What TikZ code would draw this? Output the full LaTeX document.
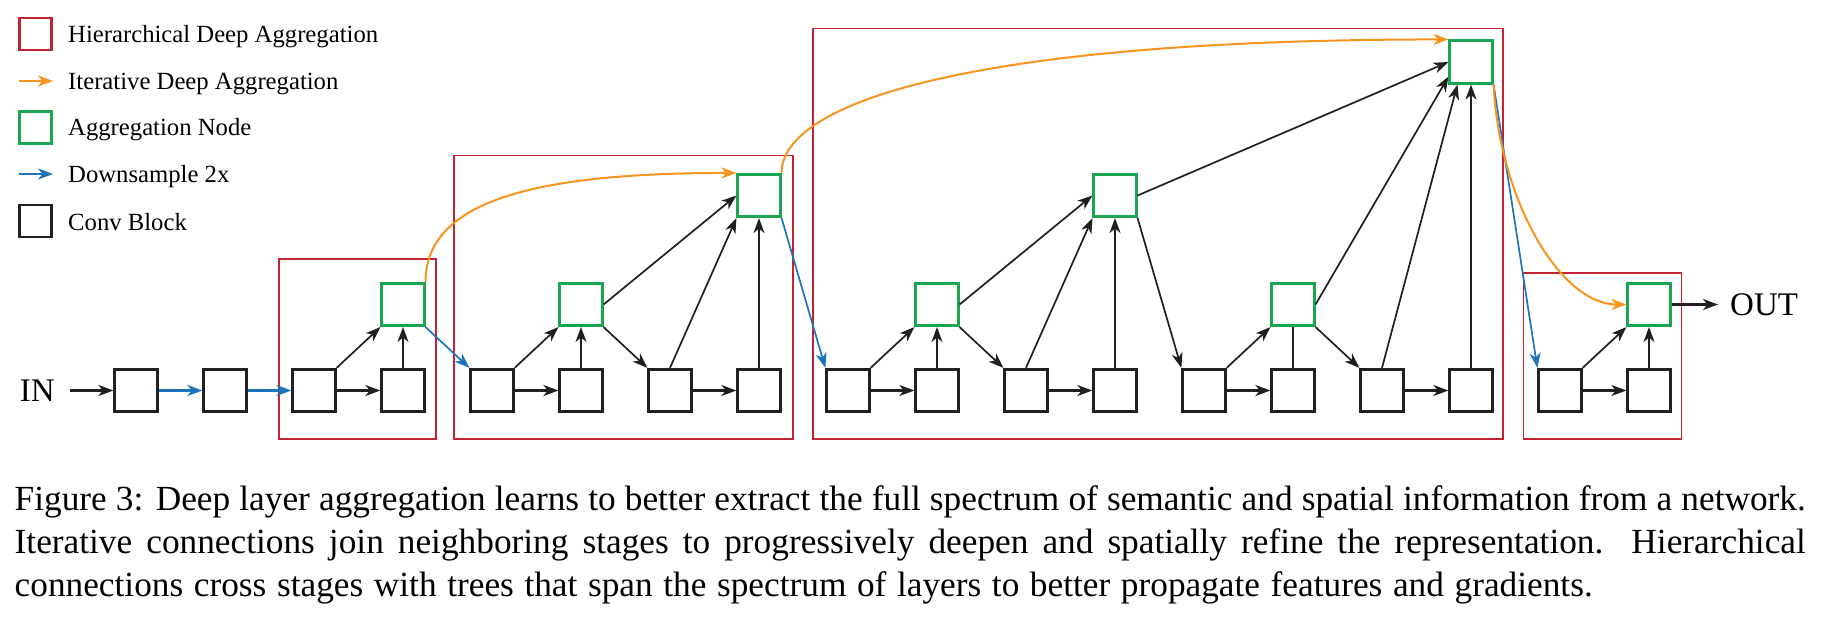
\documentclass[tikz,border=0pt]{standalone}
\usepackage{fontspec}
\setmainfont{Liberation Serif}
\usetikzlibrary{arrows.meta}
\definecolor{hred}{RGB}{196,34,48}
\definecolor{ggreen}{RGB}{26,166,80}
\definecolor{iorange}{RGB}{247,148,30}
\definecolor{dblue}{RGB}{28,117,188}
\definecolor{cblack}{RGB}{35,31,32}
\begin{document}
\begin{tikzpicture}[x=1pt,y=-1pt,
  tip/.tip={Stealth[length=15pt,width=11pt,inset=4.5pt]},
  conv/.style={draw=cblack,line width=2.8pt,minimum size=42.5pt,inner sep=0pt},
  agg/.style={draw=ggreen,line width=2.6pt,minimum size=42.5pt,inner sep=0pt},
  hda/.style={draw=hred,line width=1.6pt},
  conn/.style={draw=cblack,line width=1.7pt,-tip},
  rowarr/.style={draw=cblack,line width=2.2pt,-tip},
  plainline/.style={draw=cblack,line width=1.5pt},
  down/.style={draw=dblue,line width=1.7pt,-tip},
  downrow/.style={draw=dblue,line width=2.2pt,-tip},
  iter/.style={draw=iorange,line width=2pt,-tip},
  lab/.style={inner sep=0pt,font=\fontsize{33}{40}\selectfont},
  legtext/.style={anchor=base west,inner sep=0pt,font=\fontsize{24.7}{30}\selectfont},
  legsq/.style={minimum size=32pt,line width=2.4pt,inner sep=0pt},
  captext/.style={anchor=base west,inner sep=0pt,font=\fontsize{35.3}{43}\selectfont}
]
\useasboundingbox (0,0) rectangle (1824,634);

% legend
\node[legsq,draw=hred] (lr) at (35.5,34) {};
\node[legtext] (lt1) at (68,43) {Hierarchical Deep Aggregation};
\coordinate (lo1) at (19,81); \coordinate (lo2) at (53,81);
\draw[iter] (lo1) -- (lo2);
\node[legtext] (lt2) at (68,89.5) {Iterative Deep Aggregation};
\node[legsq,draw=ggreen] (lg) at (35.5,127.5) {};
\node[legtext] (lt3) at (68,135.5) {Aggregation Node};
\coordinate (lb1) at (19,174); \coordinate (lb2) at (53,174);
\draw[down] (lb1) -- (lb2);
\node[legtext] (lt4) at (68,182.5) {Downsample 2x};
\node[legsq,draw=cblack] (lk) at (35.5,221) {};
\node[legtext] (lt5) at (68,230) {Conv Block};

% HDA frames
\draw[hda] (279,259) rectangle (436,439);
\draw[hda] (454,155.5) rectangle (793,439);
\draw[hda] (813,28.5) rectangle (1503,439);
\draw[hda] (1523.5,273) rectangle (1681.5,439);

% conv blocks
\foreach \k in {1,...,18} {
  \node[conv] (b\k) at ({136+89*(\k-1)},390.5) {};
}
% aggregation nodes
\node[agg] (g1) at (403,304.5) {};
\node[agg] (g2) at (581,304.5) {};
\node[agg] (g3) at (759,195.5) {};
\node[agg] (g4) at (937,304.5) {};
\node[agg] (g5) at (1115,195.5) {};
\node[agg] (g6) at (1293,304.5) {};
\node[agg] (g7) at (1471,62) {};
\node[agg] (g8) at (1649,304.5) {};

\node[lab,anchor=east] (in) at (55,390.5) {IN};
\node[lab,anchor=west] (out) at (1730,304.5) {OUT};

% stage 0 / 1
\draw[rowarr,shorten <=15pt] (in) -- (b1);
\draw[downrow] (b1) -- (b2);
\draw[downrow] (b2) -- (b3);
\draw[rowarr] (b3) -- (b4);
\draw[conn] (b3.north east) -- (g1.south west);
\draw[conn] (b4) -- (g1);
\draw[down] (g1.south east) -- (b5.north west);
\draw[iter] (g1.north east) .. controls +(0,-83) and +(-196,0) .. (g3.north west);

% stage 2
\draw[rowarr] (b5) -- (b6);
\draw[conn] (b5.north east) -- (g2.south west);
\draw[conn] (b6) -- (g2);
\draw[conn] (g2.south east) -- (b7.north west);
\draw[rowarr] (b7) -- (b8);
\draw[conn] (g2.east) -- (g3.west);
\draw[conn] (b7.north) -- (g3.south west);
\draw[conn] (b8) -- (g3);
\draw[down] (g3.south east) -- (b9.north west);
\draw[iter] (g3.north east) .. controls +(0,-70) and +(-479,0) .. (g7.north west);

% stage 3
\draw[rowarr] (b9) -- (b10);
\draw[conn] (b9.north east) -- (g4.south west);
\draw[conn] (b10) -- (g4);
\draw[conn] (g4.south east) -- (b11.north west);
\draw[rowarr] (b11) -- (b12);
\draw[conn] (g4.east) -- (g5.west);
\draw[conn] (b11.north) -- (g5.south west);
\draw[conn] (b12) -- (g5);
\draw[conn] (g5.south east) -- (b13.north west);
\draw[rowarr] (b13) -- (b14);
\draw[conn] (b13.north east) -- (g6.south west);
\draw[plainline] (b14) -- (g6);
\draw[conn] (g6.south east) -- (b15.north west);
\draw[rowarr] (b15) -- (b16);
\draw[conn] (g5.east) -- (g7.west);
\draw[conn] (g6.east) -- ([yshift=8pt]g7.south west);
\draw[conn] (b15.north) -- ([xshift=9pt]g7.south west);
\draw[conn] (b16) -- (g7);
\draw[down] (g7.south east) -- (b17.north west);
\draw[iter] (g7.south east) .. controls +(6,116) and +(-66,0) .. (g8.west);

% stage 4
\draw[rowarr] (b17) -- (b18);
\draw[conn] (b17.north east) -- (g8.south west);
\draw[conn] (b18) -- (g8);
\draw[rowarr,shorten >=12pt] (g8) -- (out);

% caption
\node[captext] (cap1) at (14.5,510) {\makebox[1791pt][s]{Figure 3: Deep layer aggregation learns to better extract the full spectrum of semantic and spatial information from a network.}};
\node[captext] (cap2) at (14.5,553) {\makebox[1791pt][s]{Iterative connections join neighboring stages to progressively deepen and spatially refine the representation.\ \ Hierarchical}};
\node[captext] (cap3) at (14.5,596) {\makebox[1578pt][s]{connections cross stages with trees that span the spectrum of layers to better propagate features and gradients.}};
\end{tikzpicture}
\end{document}
